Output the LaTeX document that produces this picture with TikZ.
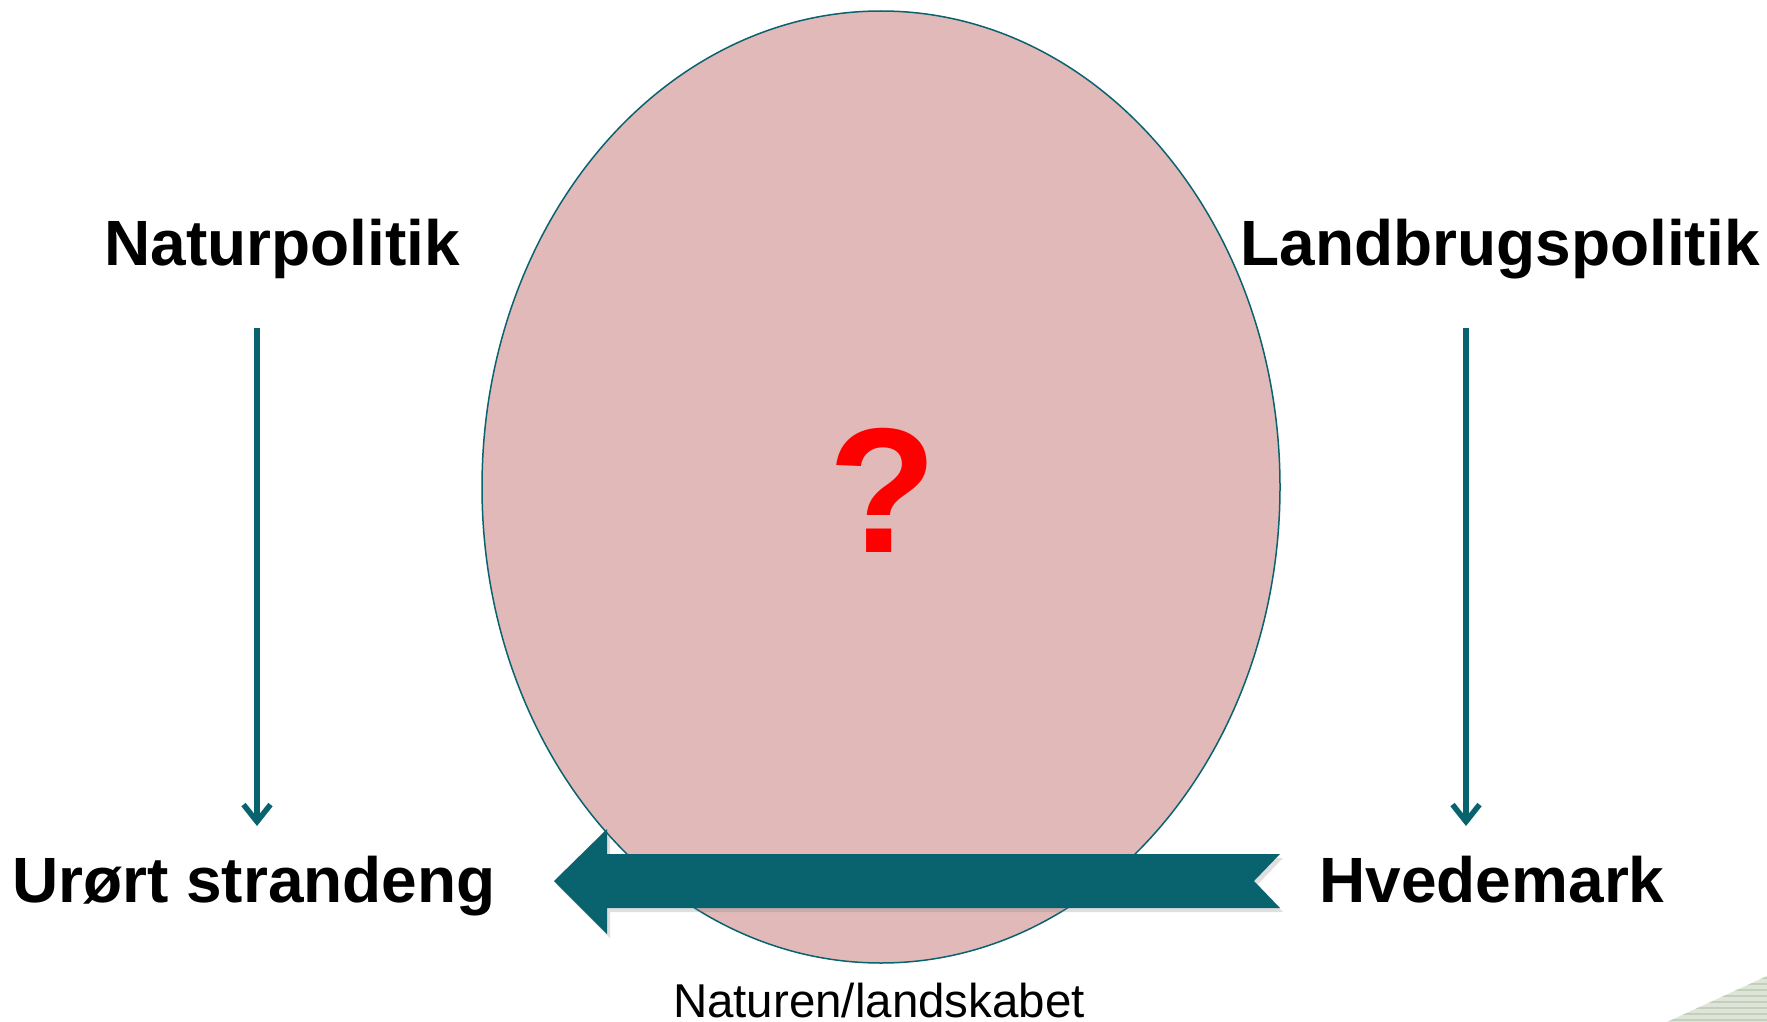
\documentclass[tikz,border=0pt]{standalone}
\usepackage{fontspec}
\setmainfont{Liberation Sans}
\usetikzlibrary{arrows.meta,shadows}

\definecolor{petrol}{RGB}{9,99,111}
\definecolor{rosa}{RGB}{226,185,185}
\definecolor{stripelight}{RGB}{222,229,216}
\definecolor{stripedark}{RGB}{192,208,186}

\tikzset{
  politik/.style={inner sep=0pt, anchor=base, font=\fontsize{64}{70}\selectfont\bfseries},
  flow/.style={draw=petrol, line width=5.5pt, -{Straight Barb[length=17pt,width=27pt]}},
}

\begin{document}
\begin{tikzpicture}[x=1pt,y=-1pt]

\useasboundingbox (0,0) rectangle (1767,1022);

\def\pladsen{(881,487) ellipse [x radius=399pt, y radius=476pt]}
\def\pilen{(554,881) -- (607,829) -- (607,854) -- (1280,854) -- (1254,881) -- (1280,908) -- (607,908) -- (607,934) -- cycle}

\fill[rosa, draw=petrol, line width=1.5pt] \pladsen;

\fill[petrol, drop shadow={opacity=0.25, shadow xshift=3pt, shadow yshift=-4pt}] \pilen;

\node[politik] (natur) at (282,265) {Naturpolitik};
\node[politik] (landbrug) at (1500,265) {Landbrugspolitik};
\node[politik] (urort) at (254,902) {Urørt strandeng};
\node[politik] (hvede) at (1492,902) {Hvedemark};

\node[inner sep=0pt, text=red, font=\fontsize{178}{190}\selectfont\bfseries] (spm) at (883,490) {?};
\node[inner sep=0pt, anchor=base, font=\fontsize{47.5}{52}\selectfont] (landskab) at (879,1017) {Naturen/landskabet};

\coordinate (naturfra) at (257,328);
\coordinate (naturtil) at (257,826);
\coordinate (landfra) at (1466,328);
\coordinate (landtil) at (1466,826);
\draw[flow] (naturfra) -- (naturtil);
\draw[flow] (landfra) -- (landtil);

% hjoerne
\begin{scope}
\clip (1667,1022) -- (1767,976) -- (1767,1022) -- cycle;
\fill[stripelight] (1660,970) rectangle (1767,1022);
\foreach \y in {978,984,...,1022}
  \draw[stripedark, line width=2.5pt] (1660,\y) -- (1767,\y);
\end{scope}

\end{tikzpicture}
\end{document}
